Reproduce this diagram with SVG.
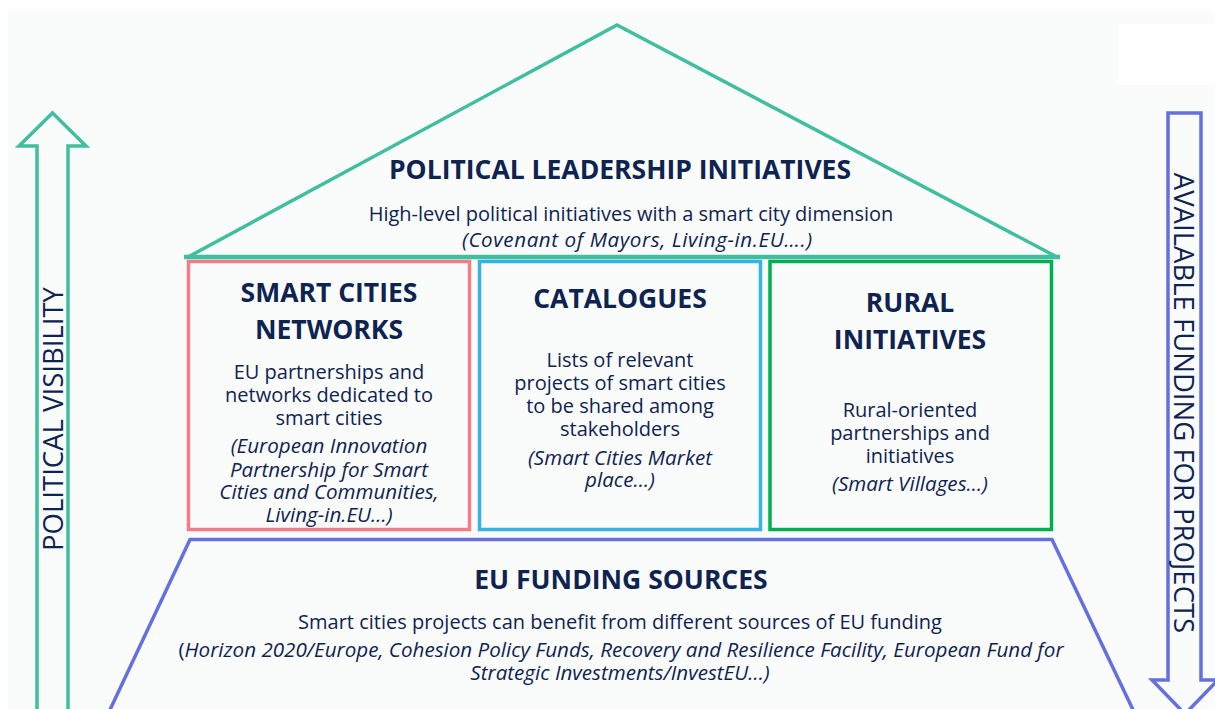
<svg xmlns="http://www.w3.org/2000/svg" width="1215" height="709" viewBox="0 0 1215 709">
<style>
text{font-family:"Open Sans","Noto Sans",sans-serif;fill:#0f2351;text-anchor:middle}
.h{font-weight:700;font-size:26.5px}
.b{font-size:20px}
.i{font-size:20.6px;font-style:italic}
.v{font-size:27.5px}
.ln{fill:none;stroke-width:3.5;stroke-linejoin:miter}
</style>
<rect x="0" y="0" width="1215" height="709" fill="#ffffff"/>
<rect x="8" y="10" width="1207" height="699" fill="#fafcfc"/>
<rect x="1118" y="24" width="97" height="61" fill="#ffffff"/>

<g id="political-visibility">
<polygon class="ln" stroke="#3fbf9f" points="37,720 37,146 19,146 52.5,113 86,146 68,146 68,720"/>
<text class="v" transform="translate(63,419) rotate(-90)">POLITICAL VISIBILITY</text>
</g>

<g id="available-funding">
<polygon class="ln" stroke="#6470e0" points="1168,113 1201,113 1201,680 1218,680 1185,714 1152,680 1168,680"/>
<text class="v" transform="translate(1174,403) rotate(90)">AVAILABLE FUNDING FOR PROJECTS</text>
</g>

<g id="political-leadership">
<polygon class="ln" stroke="#3fbf9f" points="188,257 617,25 1057,257"/>
<text class="h" x="620" y="179">POLITICAL LEADERSHIP INITIATIVES</text>
<text class="b" x="631" y="221">High-level political initiatives with a smart city dimension</text>
<text class="i" x="637" y="247" textLength="350">(Covenant of Mayors, Living-in.EU….)</text>
</g>

<g id="smart-cities-networks">
<rect class="ln" stroke="#f47c86" x="188.5" y="261.5" width="281" height="268"/>
<text class="h" x="329" y="302">SMART CITIES</text>
<text class="h" x="329" y="339">NETWORKS</text>
<text class="b" x="329" y="379">EU partnerships and</text>
<text class="b" x="329" y="402">networks dedicated to</text>
<text class="b" x="329" y="425">smart cities</text>
<text class="i" x="329" y="453">(European Innovation</text>
<text class="i" x="329" y="477">Partnership for Smart</text>
<text class="i" x="329" y="499">Cities and Communities,</text>
<text class="i" x="329" y="522">Living-in.EU…)</text>
</g>

<g id="catalogues">
<rect class="ln" stroke="#35b3e8" x="479.5" y="261.5" width="281" height="268"/>
<text class="h" x="620" y="308">CATALOGUES</text>
<text class="b" x="620" y="367">Lists of relevant</text>
<text class="b" x="620" y="390">projects of smart cities</text>
<text class="b" x="620" y="413">to be shared among</text>
<text class="b" x="620" y="436">stakeholders</text>
<text class="i" x="620" y="465">(Smart Cities Market</text>
<text class="i" x="620" y="487">place…)</text>
</g>

<g id="rural-initiatives">
<rect class="ln" stroke="#00b050" x="770" y="261.5" width="281.5" height="268"/>
<text class="h" x="910" y="312">RURAL</text>
<text class="h" x="910" y="349">INITIATIVES</text>
<text class="b" x="910" y="417">Rural-oriented</text>
<text class="b" x="910" y="440">partnerships and</text>
<text class="b" x="910" y="463">initiatives</text>
<text class="i" x="910" y="491">(Smart Villages…)</text>
</g>

<g id="roof-base">
<line x1="184" y1="257" x2="1060" y2="257" stroke="#3fbf9f" stroke-width="4.5"/>
</g>

<g id="eu-funding">
<polygon class="ln" stroke="#6470e0" points="108,714 190,539.5 1052,539.5 1135,714"/>
<text class="h" x="621" y="589">EU FUNDING SOURCES</text>
<text class="b" x="620" y="629">Smart cities projects can benefit from different sources of EU funding</text>
<text class="i" x="621" y="657"><tspan font-style="normal">(</tspan>Horizon 2020/Europe, Cohesion Policy Funds, Recovery and Resilience Facility, European Fund for</text>
<text class="i" x="620" y="680">Strategic Investments/InvestEU…)</text>
</g>

<g id="connectors"></g>
</svg>
